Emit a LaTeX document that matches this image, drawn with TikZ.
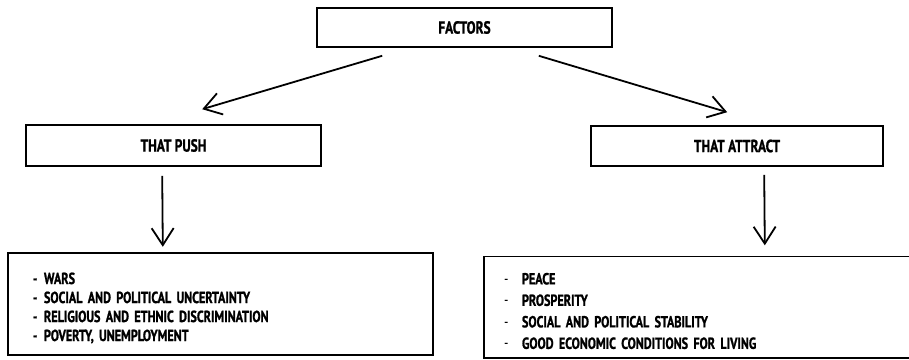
\documentclass[tikz,border=0pt]{standalone}
\usepackage{fontspec}
\setmainfont{PT Sans}
\newfontfamily\condfont[FakeStretch=0.76, BoldFeatures={FakeBold=1.2}]{PT Sans}
\usetikzlibrary{arrows.meta}
\begin{document}
\begin{tikzpicture}[x=1pt,y=-1pt,
  box/.style={draw, line width=1.6pt, rectangle, inner sep=0pt, font=\condfont\fontsize{17.5}{20}\selectfont\bfseries},
  listbox/.style={rectangle, inner sep=0pt, align=left},
  edge/.style={line width=1.6pt},
  conn/.style={line width=1.8pt, -{Straight Barb[length=17pt,width=22pt,line width=1.8pt]}}]
\useasboundingbox (0,0) rectangle (909,359);
\node[box, minimum width=295pt, minimum height=39pt] (factors) at (464.5,27.5) {FACTORS};
\node[box, minimum width=295pt, minimum height=41pt] (push) at (173.5,145.5) {THAT PUSH};
\node[box, minimum width=292pt, minimum height=40pt] (attract) at (737,146) {THAT ATTRACT};
\node[listbox, minimum width=425pt, minimum height=102pt, text width=375pt,
      font=\condfont\fontsize{16}{19}\selectfont\bfseries] (pushlist) at (220.5,308)
  {\makebox[11pt][l]{-}WARS\\
   \makebox[11pt][l]{-}SOCIAL AND POLITICAL UNCERTAINTY\\
   \makebox[11pt][l]{-}RELIGIOUS AND ETHNIC DISCRIMINATION\\
   \makebox[11pt][l]{-}POVERTY, UNEMPLOYMENT};
\draw[edge] ([yshift=4pt]pushlist.north west) rectangle ([yshift=4pt]pushlist.south east);
\node[listbox, minimum width=428pt, minimum height=101pt, text width=388pt,
      font=\condfont\fontsize{16}{21.5}\selectfont\bfseries] (attractlist) at (698,311)
  {\makebox[18pt][l]{\mdseries-}PEACE\\
   \makebox[18pt][l]{\mdseries-}PROSPERITY\\
   \makebox[18pt][l]{\mdseries-}SOCIAL AND POLITICAL STABILITY\\
   \makebox[18pt][l]{\mdseries-}GOOD ECONOMIC CONDITIONS FOR LIVING};
\draw[edge] ([yshift=4pt]attractlist.north east) -- ([yshift=4pt]attractlist.north west) -- ([yshift=4pt]attractlist.south west) -- ([yshift=4pt]attractlist.south east);
\draw[conn] ([xshift=66pt,yshift=-8pt]factors.south west) -- ([xshift=177pt,yshift=15pt]push.north west);
\draw[conn] ([xshift=-74pt,yshift=-8pt]factors.south east) -- ([xshift=137pt,yshift=13pt]attract.north west);
\draw[conn] ([xshift=137pt,yshift=-9pt]push.south west) -- ([xshift=155pt,yshift=10pt]pushlist.north west);
\draw[conn] ([xshift=174pt,yshift=-8pt]attract.south west) -- ([xshift=281pt,yshift=15pt]attractlist.north west);
\end{tikzpicture}
\end{document}
